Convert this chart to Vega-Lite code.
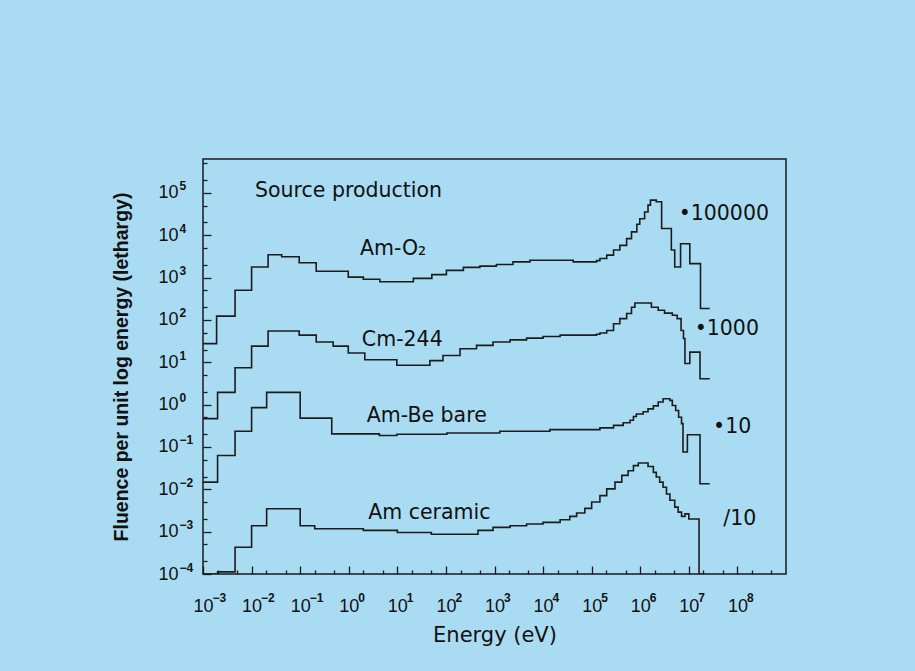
{
  "$schema": "https://vega.github.io/schema/vega-lite/v6.json",
  "width": 583,
  "height": 415,
  "autosize": {"type": "none"},
  "padding": {"left": 203, "top": 159, "right": 129, "bottom": 97},
  "background": "#a9dcf2",
  "config": {
    "view": {"stroke": "#1a1a1a", "strokeWidth": 1.5, "fill": "#a9dcf2"},
    "axis": {"grid": false, "domain": false, "labelColor": "#111111", "titleColor": "#111111", "tickColor": "#1a1a1a", "tickWidth": 1.3, "labelOverlap": false, "labelFlush": false}
  },
  "datasets": {
    "curves": [
      {"s": "AmO2", "E": 0.001, "F": 27.5}, {"s": "AmO2", "E": 0.001905, "F": 123}, {"s": "AmO2", "E": 0.004571, "F": 501}, {"s": "AmO2", "E": 0.01, "F": 1778}, {"s": "AmO2", "E": 0.02188, "F": 3467}, {"s": "AmO2", "E": 0.04169, "F": 3090}, {"s": "AmO2", "E": 0.0955, "F": 2239}, {"s": "AmO2", "E": 0.2138, "F": 1413}, {"s": "AmO2", "E": 0.9772, "F": 1023}, {"s": "AmO2", "E": 1.995, "F": 912}, {"s": "AmO2", "E": 4.365, "F": 794}, {"s": "AmO2", "E": 21.38, "F": 955}, {"s": "AmO2", "E": 51.29, "F": 1175}, {"s": "AmO2", "E": 102.3, "F": 1479}, {"s": "AmO2", "E": 229.1, "F": 1738}, {"s": "AmO2", "E": 501.2, "F": 1862}, {"s": "AmO2", "E": 1096, "F": 2042}, {"s": "AmO2", "E": 2399, "F": 2344}, {"s": "AmO2", "E": 5370, "F": 2570}, {"s": "AmO2", "E": 41690, "F": 2344}, {"s": "AmO2", "E": 125900, "F": 2512}, {"s": "AmO2", "E": 147900, "F": 2818}, {"s": "AmO2", "E": 204200, "F": 3388}, {"s": "AmO2", "E": 281800, "F": 4467}, {"s": "AmO2", "E": 380200, "F": 5754}, {"s": "AmO2", "E": 524800, "F": 8318}, {"s": "AmO2", "E": 660700, "F": 12020}, {"s": "AmO2", "E": 851100, "F": 18200}, {"s": "AmO2", "E": 977200, "F": 24550}, {"s": "AmO2", "E": 1230000, "F": 35480}, {"s": "AmO2", "E": 1445000, "F": 51290}, {"s": "AmO2", "E": 1622000, "F": 67610}, {"s": "AmO2", "E": 2138000, "F": 61660}, {"s": "AmO2", "E": 2754000, "F": 14450}, {"s": "AmO2", "E": 4365000, "F": 4467}, {"s": "AmO2", "E": 5129000, "F": 1778}, {"s": "AmO2", "E": 6761000, "F": 6310}, {"s": "AmO2", "E": 10470000, "F": 2138}, {"s": "AmO2", "E": 17380000, "F": 186.2}, {"s": "AmO2", "E": 26920000, "F": 186.2},
      {"s": "Cm244", "E": 0.001, "F": 0.4677}, {"s": "Cm244", "E": 0.001995, "F": 1.95}, {"s": "Cm244", "E": 0.004571, "F": 7.413}, {"s": "Cm244", "E": 0.01, "F": 23.99}, {"s": "Cm244", "E": 0.02188, "F": 54.95}, {"s": "Cm244", "E": 0.0955, "F": 43.65}, {"s": "Cm244", "E": 0.2138, "F": 30.2}, {"s": "Cm244", "E": 0.4786, "F": 23.99}, {"s": "Cm244", "E": 0.9772, "F": 16.6}, {"s": "Cm244", "E": 2.138, "F": 11.48}, {"s": "Cm244", "E": 9.772, "F": 8.511}, {"s": "Cm244", "E": 46.77, "F": 10.96}, {"s": "Cm244", "E": 87.1, "F": 14.45}, {"s": "Cm244", "E": 195, "F": 20.89}, {"s": "Cm244", "E": 426.6, "F": 25.12}, {"s": "Cm244", "E": 933.3, "F": 30.2}, {"s": "Cm244", "E": 2089, "F": 33.88}, {"s": "Cm244", "E": 4571, "F": 37.15}, {"s": "Cm244", "E": 10000, "F": 40.74}, {"s": "Cm244", "E": 22390, "F": 43.65}, {"s": "Cm244", "E": 125900, "F": 45.71}, {"s": "Cm244", "E": 147900, "F": 48.98}, {"s": "Cm244", "E": 204200, "F": 56.23}, {"s": "Cm244", "E": 281800, "F": 81.28}, {"s": "Cm244", "E": 380200, "F": 107.2}, {"s": "Cm244", "E": 524800, "F": 141.3}, {"s": "Cm244", "E": 660700, "F": 199.5}, {"s": "Cm244", "E": 776200, "F": 251.2}, {"s": "Cm244", "E": 1698000, "F": 199.5}, {"s": "Cm244", "E": 2344000, "F": 169.8}, {"s": "Cm244", "E": 3162000, "F": 144.5}, {"s": "Cm244", "E": 4571000, "F": 128.8}, {"s": "Cm244", "E": 5754000, "F": 107.2}, {"s": "Cm244", "E": 6918000, "F": 56.23}, {"s": "Cm244", "E": 7762000, "F": 36.31}, {"s": "Cm244", "E": 8318000, "F": 9.333}, {"s": "Cm244", "E": 10470000, "F": 17.38}, {"s": "Cm244", "E": 16980000, "F": 4.074}, {"s": "Cm244", "E": 26920000, "F": 4.074},
      {"s": "AmBe", "E": 0.001, "F": 0.01479}, {"s": "AmBe", "E": 0.001995, "F": 0.0631}, {"s": "AmBe", "E": 0.004571, "F": 0.2344}, {"s": "AmBe", "E": 0.01, "F": 0.8511}, {"s": "AmBe", "E": 0.02042, "F": 1.95}, {"s": "AmBe", "E": 0.1, "F": 0.4786}, {"s": "AmBe", "E": 0.4467, "F": 0.2042}, {"s": "AmBe", "E": 4.266, "F": 0.1862}, {"s": "AmBe", "E": 9.772, "F": 0.1995}, {"s": "AmBe", "E": 104.7, "F": 0.2138}, {"s": "AmBe", "E": 1288, "F": 0.2344}, {"s": "AmBe", "E": 13800, "F": 0.257}, {"s": "AmBe", "E": 147900, "F": 0.2818}, {"s": "AmBe", "E": 281800, "F": 0.3236}, {"s": "AmBe", "E": 446700, "F": 0.3715}, {"s": "AmBe", "E": 616600, "F": 0.4266}, {"s": "AmBe", "E": 724400, "F": 0.5248}, {"s": "AmBe", "E": 831800, "F": 0.6026}, {"s": "AmBe", "E": 1148000, "F": 0.6761}, {"s": "AmBe", "E": 1445000, "F": 0.7943}, {"s": "AmBe", "E": 1862000, "F": 0.9333}, {"s": "AmBe", "E": 2344000, "F": 1.148}, {"s": "AmBe", "E": 2951000, "F": 1.38}, {"s": "AmBe", "E": 4074000, "F": 1.259}, {"s": "AmBe", "E": 4571000, "F": 0.955}, {"s": "AmBe", "E": 5370000, "F": 0.7244}, {"s": "AmBe", "E": 6166000, "F": 0.5012}, {"s": "AmBe", "E": 7079000, "F": 0.3548}, {"s": "AmBe", "E": 7586000, "F": 0.07586}, {"s": "AmBe", "E": 9333000, "F": 0.195}, {"s": "AmBe", "E": 16980000, "F": 0.01349}, {"s": "AmBe", "E": 26920000, "F": 0.01349},
      {"s": "AmCer", "E": 0.001, "F": 0.0001}, {"s": "AmCer", "E": 0.001995, "F": 0.0001122}, {"s": "AmCer", "E": 0.004571, "F": 0.0004266}, {"s": "AmCer", "E": 0.01, "F": 0.00138}, {"s": "AmCer", "E": 0.02042, "F": 0.003467}, {"s": "AmCer", "E": 0.1, "F": 0.00138}, {"s": "AmCer", "E": 0.1995, "F": 0.001175}, {"s": "AmCer", "E": 1.995, "F": 0.001072}, {"s": "AmCer", "E": 10, "F": 0.000955}, {"s": "AmCer", "E": 50.12, "F": 0.000871}, {"s": "AmCer", "E": 457.1, "F": 0.001072}, {"s": "AmCer", "E": 933.3, "F": 0.001259}, {"s": "AmCer", "E": 2089, "F": 0.00138}, {"s": "AmCer", "E": 4571, "F": 0.001514}, {"s": "AmCer", "E": 10000, "F": 0.00166}, {"s": "AmCer", "E": 22390, "F": 0.001905}, {"s": "AmCer", "E": 35480, "F": 0.002291}, {"s": "AmCer", "E": 48980, "F": 0.002754}, {"s": "AmCer", "E": 72440, "F": 0.003548}, {"s": "AmCer", "E": 100000, "F": 0.005012}, {"s": "AmCer", "E": 147900, "F": 0.007079}, {"s": "AmCer", "E": 204200, "F": 0.01023}, {"s": "AmCer", "E": 302000, "F": 0.01479}, {"s": "AmCer", "E": 416900, "F": 0.02138}, {"s": "AmCer", "E": 562300, "F": 0.02754}, {"s": "AmCer", "E": 724400, "F": 0.03631}, {"s": "AmCer", "E": 912000, "F": 0.04169}, {"s": "AmCer", "E": 1445000, "F": 0.03467}, {"s": "AmCer", "E": 1862000, "F": 0.02512}, {"s": "AmCer", "E": 2138000, "F": 0.0195}, {"s": "AmCer", "E": 2512000, "F": 0.01479}, {"s": "AmCer", "E": 2951000, "F": 0.01122}, {"s": "AmCer", "E": 3467000, "F": 0.007762}, {"s": "AmCer", "E": 4074000, "F": 0.005495}, {"s": "AmCer", "E": 5129000, "F": 0.003802}, {"s": "AmCer", "E": 6026000, "F": 0.002884}, {"s": "AmCer", "E": 7079000, "F": 0.002291}, {"s": "AmCer", "E": 8318000, "F": 0.00263}, {"s": "AmCer", "E": 10000000, "F": 0.001995}, {"s": "AmCer", "E": 16220000, "F": 0.0001}, {"s": "AmCer", "E": 19950000, "F": 0.0001}
    ],
    "notes": [
      {"label": "Source production", "E": 0.01175, "F": 112000},
      {"label": "Am-O₂", "E": 1.698, "F": 4677},
      {"label": "Cm-244", "E": 1.862, "F": 33.1},
      {"label": "Am-Be bare", "E": 2.344, "F": 0.525},
      {"label": "Am ceramic", "E": 2.512, "F": 0.002754},
      {"label": "•100000", "E": 6166000, "F": 32360},
      {"label": "•1000", "E": 13180000, "F": 61.7},
      {"label": "•10", "E": 31620000, "F": 0.295},
      {"label": "/10", "E": 51290000, "F": 0.001995}
    ]
  },
  "layer": [
    {
      "data": {"name": "curves"},
      "mark": {"type": "line", "interpolate": "step-after", "color": "#1c1c1c", "strokeWidth": 1.6, "clip": true},
      "encoding": {
        "x": {
          "field": "E", "type": "quantitative",
          "scale": {"type": "log", "domain": [0.001, 1000000000], "nice": false},
          "axis": {
            "orient": "bottom",
            "values": [0.001, 0.002, 0.005, 0.01, 0.02, 0.05, 0.1, 0.2, 0.5, 1, 2, 5, 10, 20, 50, 100, 200, 500, 1000, 2000, 5000, 10000, 20000, 50000, 100000, 200000, 500000, 1000000, 2000000, 5000000, 10000000, 20000000, 50000000, 100000000, 200000000, 500000000],
            "labelExpr": "abs(log(datum.value)/LN10 - round(log(datum.value)/LN10)) < 0.001 ? '10' : ''",
            "tickSize": {"condition": {"test": "abs(log(datum.value)/LN10 - round(log(datum.value)/LN10)) < 0.001", "value": -8}, "value": -4},
            "labelFont": "Liberation Sans Narrow, Liberation Sans",
            "labelFontSize": 18,
            "labelPadding": 31,
            "labelBaseline": "top",
            "labelAlign": "center",
            "title": "Energy (eV)",
            "titleFont": "DejaVu Sans",
            "titleFontSize": 21,
            "titleFontWeight": "normal",
            "titlePadding": 5
          }
        },
        "y": {
          "field": "F", "type": "quantitative",
          "scale": {"type": "log", "domain": [0.0001, 631000], "nice": false},
          "axis": {
            "orient": "left",
            "values": [0.0001, 0.0002, 0.0005, 0.001, 0.002, 0.005, 0.01, 0.02, 0.05, 0.1, 0.2, 0.5, 1, 2, 5, 10, 20, 50, 100, 200, 500, 1000, 2000, 5000, 10000, 20000, 50000, 100000, 200000, 500000],
            "labelExpr": "abs(log(datum.value)/LN10 - round(log(datum.value)/LN10)) < 0.001 ? '10' : ''",
            "tickSize": {"condition": {"test": "abs(log(datum.value)/LN10 - round(log(datum.value)/LN10)) < 0.001", "value": -8}, "value": -4},
            "labelFont": "Liberation Sans Narrow, Liberation Sans",
            "labelFontSize": 18,
            "labelPadding": 33,
            "labelAlign": "right",
            "labelBaseline": "middle",
            "title": "Fluence per unit log energy (lethargy)",
            "titleFont": "Liberation Sans",
            "titleFontSize": 19.5,
            "titleFontWeight": "bold",
            "titlePadding": 26
          }
        },
        "detail": {"field": "s", "type": "nominal"}
      }
    },
    {
      "data": {"name": "notes"},
      "mark": {"type": "text", "align": "left", "baseline": "middle", "font": "DejaVu Sans", "fontSize": 20.5, "color": "#111111"},
      "encoding": {
        "x": {
          "field": "E", "type": "quantitative",
          "scale": {"type": "log", "domain": [0.001, 1000000000], "nice": false},
          "axis": {
            "orient": "bottom",
            "values": [0.001, 0.01, 0.1, 1, 10, 100, 1000, 10000, 100000, 1000000, 10000000, 100000000],
            "labelExpr": "replace(format(round(log(datum.value)/LN10), 'd'), '-', '−')",
            "ticks": false,
            "labelFont": "Liberation Sans",
            "labelFontSize": 12,
            "labelFontWeight": "bold",
            "labelAlign": "left",
            "labelBaseline": "top",
            "labelOffset": 9,
            "labelPadding": 18,
            "title": null
          }
        },
        "y": {
          "field": "F", "type": "quantitative",
          "scale": {"type": "log", "domain": [0.0001, 631000], "nice": false},
          "axis": {
            "orient": "left",
            "values": [0.0001, 0.001, 0.01, 0.1, 1, 10, 100, 1000, 10000, 100000],
            "labelExpr": "replace(format(round(log(datum.value)/LN10), 'd'), '-', '−')",
            "ticks": false,
            "labelFont": "Liberation Sans",
            "labelFontSize": 12,
            "labelFontWeight": "bold",
            "labelAlign": "left",
            "labelBaseline": "middle",
            "labelOffset": -7,
            "labelPadding": 24,
            "title": null
          }
        },
        "text": {"field": "label", "type": "nominal"}
      }
    }
  ],
  "resolve": {"axis": {"x": "independent", "y": "independent"}}
}
